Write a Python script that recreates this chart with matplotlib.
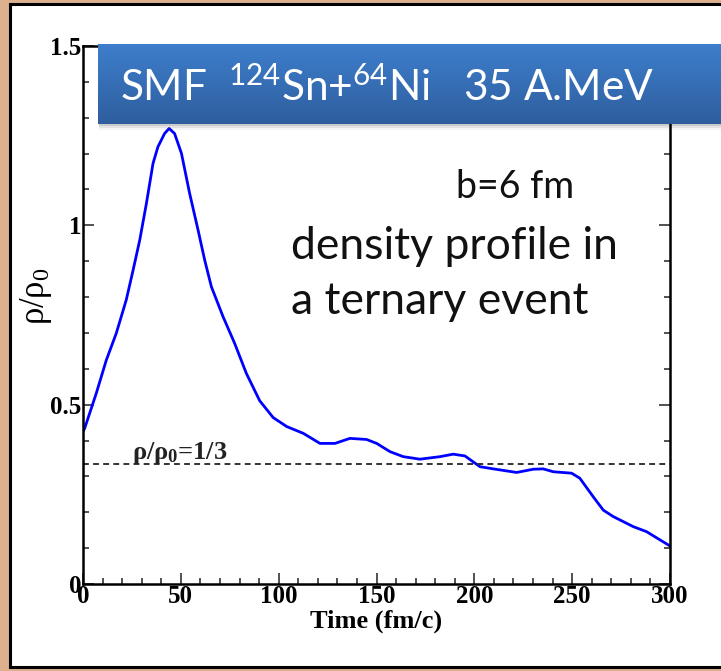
import numpy as np
import matplotlib
matplotlib.use("Agg")
import matplotlib.pyplot as plt
from matplotlib.patches import Rectangle
from matplotlib.ticker import MultipleLocator

plt.rcParams["font.family"] = ["Liberation Serif", "DejaVu Serif"]
plt.rcParams["font.weight"] = "bold"
plt.rcParams["xtick.labelsize"] = 18
plt.rcParams["ytick.labelsize"] = 18

# ---- data ----
time_fm = [0.0, 0.85, 6.8, 11.9, 17.0, 22.1, 25.6, 29.0, 32.4, 35.8, 38.3, 41.7, 44.0,
           46.8, 50.3, 54.5, 58.8, 62.2, 65.6, 71.6, 77.5, 83.5, 90.3, 97.2, 104.1,
           112.6, 121.1, 128.8, 136.4, 144.9, 150.1, 156.9, 163.7, 172.2, 182.4,
           189.2, 195.2, 202.9, 209.7, 221.6, 230.1, 235.2, 240.3, 249.7, 253.9,
           260.8, 265.9, 271.0, 281.2, 288.0, 300.0]
rho_ratio = [0.425, 0.434, 0.532, 0.624, 0.699, 0.792, 0.875, 0.959, 1.061, 1.173, 1.219,
             1.256, 1.270, 1.256, 1.201, 1.089, 0.987, 0.903, 0.829, 0.745, 0.671,
             0.587, 0.511, 0.464, 0.439, 0.420, 0.392, 0.392, 0.406, 0.403, 0.392,
             0.369, 0.355, 0.348, 0.355, 0.362, 0.357, 0.327, 0.321, 0.311, 0.320,
             0.321, 0.313, 0.309, 0.295, 0.243, 0.206, 0.188, 0.160, 0.146, 0.106]
threshold = 1.0 / 3.0
x_ticks = [0, 50, 100, 150, 200, 250, 300]
x_tick_labels = ["0", "50", "100", "150", "200", "250", "300"]
y_ticks = [0, 0.5, 1, 1.5]
y_tick_labels = ["0", "0.5", "1", "1.5"]

W, H = 721, 671
fig = plt.figure(figsize=(W / 100, H / 100), dpi=100)
fig.patch.set_facecolor("#DDB08E")

# white panel with black border
panel = Rectangle((10 / W, 4 / H), (W + 10 - 10) / W, (667 - 4) / H,
                  transform=fig.transFigure, facecolor="white", edgecolor="black",
                  linewidth=2.2, zorder=-5)
fig.patches.append(panel)

ax = fig.add_axes([83 / W, (H - 584) / H, (670 - 83) / W, (584 - 46) / H], zorder=2)
ax.set_facecolor("none")
ax.plot(time_fm, rho_ratio, color="#0000FF", linewidth=2.0, solid_capstyle="round",
        solid_joinstyle="round")
ax.axhline(threshold, color="#333333", linewidth=1.4, linestyle=(0, (3, 2.2)))

ax.set_xlim(0, 300)
ax.set_ylim(0, 1.5)
ax.xaxis.set_minor_locator(MultipleLocator(10))
ax.yaxis.set_minor_locator(MultipleLocator(0.1))
ax.tick_params(which="both", direction="in", top=False, right=True, width=1.2,
               color="#333333")
ax.tick_params(which="major", length=8)
ax.tick_params(which="minor", length=4.5)
ax.tick_params(axis="x", which="major", pad=1)
ax.tick_params(axis="y", which="major", pad=1)
ax.set_xticks(x_ticks, labels=x_tick_labels)
ax.set_yticks(y_ticks, labels=y_tick_labels)
for sp in ax.spines.values():
    sp.set_linewidth(1.8)

ax.set_xlabel("Time (fm/c)", fontfamily="Liberation Serif", fontweight="bold",
              fontsize=19, labelpad=1)
ax.set_ylabel(r"$\mathregular{\rho/\rho_0}$", fontfamily="Liberation Serif",
              fontweight="normal", fontsize=25)
ax.yaxis.set_label_coords(-0.05, 0.535)

ax.text(25, threshold - 0.004, r"$\mathregular{\rho/\rho_{0}}$=1/3",
        fontfamily="Liberation Serif", fontweight="bold", fontsize=19,
        va="bottom", ha="left", color="#222222")

ax.text(0.635, 0.738, "b=6 fm", transform=ax.transAxes, fontfamily="Lato",
        fontweight="normal", fontsize=27, va="center", ha="left", color="#111111")
ax.text(0.355, 0.628, "density profile in", transform=ax.transAxes, fontfamily="Lato",
        fontweight="normal", fontsize=32, va="center", ha="left", color="#111111")
ax.text(0.355, 0.525, "a ternary event", transform=ax.transAxes, fontfamily="Lato",
        fontweight="normal", fontsize=32, va="center", ha="left", color="#111111")

# title banner with shadow and gradient
for i, a in enumerate([0.10, 0.07, 0.04]):
    sh = Rectangle(((98 + 1) / W, (H - 124 - 2 - 2 * i) / H), (W - 98) / W, (82) / H,
                   transform=fig.transFigure, facecolor="black", alpha=a,
                   edgecolor="none", zorder=5)
    fig.patches.append(sh)
bax = fig.add_axes([98 / W, (H - 124) / H, (W - 98) / W, 80 / H], zorder=10)
bax.set_axis_off()
top = np.array([0x3E, 0x7E, 0xCC]) / 255
bot = np.array([0x2E, 0x5E, 0x9E]) / 255
t = np.linspace(0, 1, 100)[:, None]
grad = (top[None, :] * (1 - t) + bot[None, :] * t)[:, None, :]
bax.imshow(grad, aspect="auto", extent=[0, 1, 0, 1], origin="upper")
bax.set_xlim(0, 1)
bax.set_ylim(0, 1)
bax.text(0.035, 0.47,
         r"SMF  $\mathregular{^{124}}$Sn+$\mathregular{^{64}}$Ni   35 A.MeV",
         fontfamily="Lato", fontweight="normal", fontsize=30.5, color="white",
         va="center", ha="left")

fig.savefig("out.png", dpi=100, facecolor=fig.get_facecolor())
